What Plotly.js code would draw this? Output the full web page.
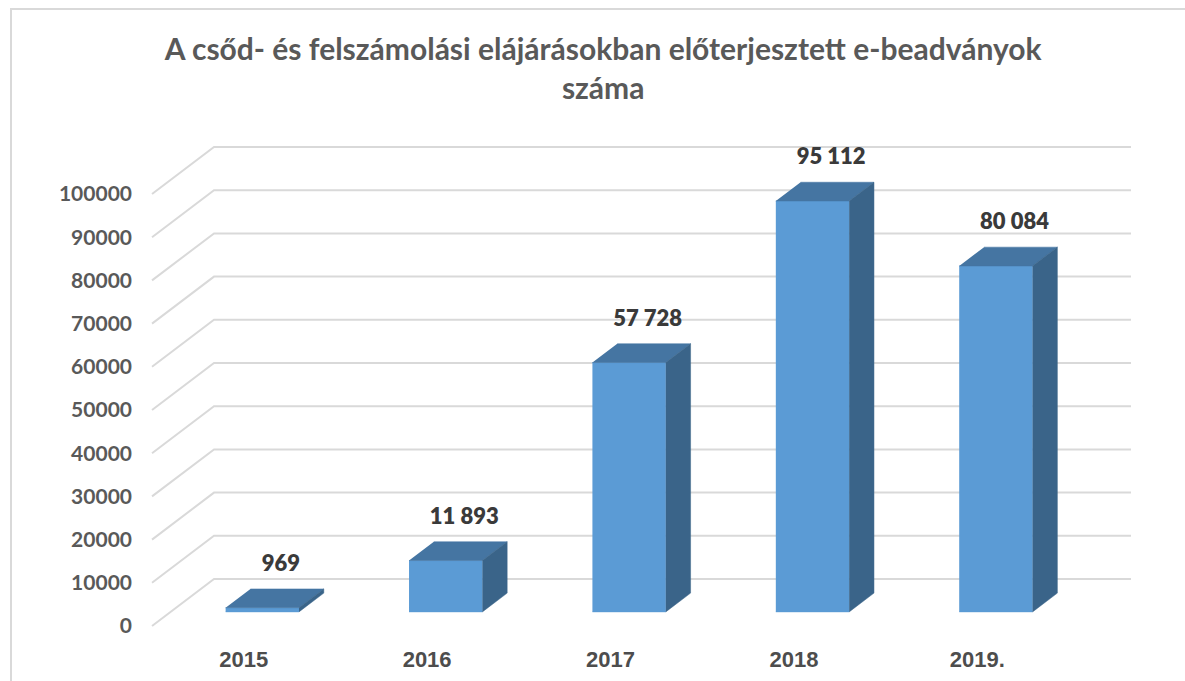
<!DOCTYPE html>
<html><head><meta charset="utf-8">
<script src="https://cdn.plot.ly/plotly-3.0.1.min.js"></script>
<style>html,body{margin:0;padding:0;background:#fff}#chart{width:1185px;height:681px}</style>
</head><body><div id="chart"></div>
<script>
// ---- data ----
const categories = ['2015', '2016', '2017', '2018', '2019.'];
const values = [969, 11893, 57728, 95112, 80084];
const yTickValues = [0, 10000, 20000, 30000, 40000, 50000, 60000, 70000, 80000, 90000, 100000];
const yTickLabels = ['0', '10000', '20000', '30000', '40000', '50000', '60000', '70000', '80000', '90000', '100000'];
const chartTitle = 'A csőd- és felszámolási elájárásokban előterjesztett e-beadványok<br>száma';

// ---- pseudo-3D geometry (style) ----
const DX = 0.338;      // depth shift along x (category units)
const DY = 10880;      // depth shift along y (value units)
const D1 = 0.3, D2 = 0.7, BW = 0.4;
const PADX = 0.011, PADY = 463;
const LABEL_OFF = 7600;
const W = 1185, H = 681, L = 150, R = 52, T = 145, B = 53;
const n = categories.length;

function fmt(v) { return String(v).replace(/\B(?=(\d{3})+(?!\d))/g, ' '); }

const FONT = 'Lato, "Open Sans", sans-serif';

// gridlines (back wall + left wall diagonals)
const gx = [], gy = [];
yTickValues.forEach(v => {
  gx.push(-0.5, -0.5 + DX, n - 0.5 + DX, null);
  gy.push(v, v + DY, v + DY, null);
});

const fx = [], fy = [], tx = [], ty = [], sxs = [], sys = [], lx = [], ly = [], lt = [];
const ddx = DX * (D2 - D1), b1 = DY * D1, b2 = DY * D2;
values.forEach((v, i) => {
  const x0 = i - BW / 2 + DX * D1, x1 = x0 + BW;
  fx.push(x0, x1, x1, x0, null); fy.push(b1, b1, v + b1, v + b1, null);
  tx.push(x0, x1, x1 + ddx, x0 + ddx, null); ty.push(v + b1, v + b1, v + b2, v + b2, null);
  sxs.push(x1, x1 + ddx, x1 + ddx, x1, null); sys.push(b1, b2, v + b2, v + b1, null);
  lx.push(i + DX * 0.6); ly.push(v + DY * 0.5 + LABEL_OFF); lt.push(fmt(v));
});

const traces = [
  {type: 'scatter', mode: 'lines', x: gx, y: gy, line: {color: '#d9d9d9', width: 2}, hoverinfo: 'skip', connectgaps: false},
  {type: 'scatter', mode: 'lines', x: fx, y: fy, fill: 'toself', fillcolor: '#5b9bd5', line: {color: '#5b9bd5', width: 0.5}, hoverinfo: 'skip'},
  {type: 'scatter', mode: 'lines', x: tx, y: ty, fill: 'toself', fillcolor: '#4575a2', line: {color: '#4575a2', width: 0.5}, hoverinfo: 'skip'},
  {type: 'scatter', mode: 'lines', x: sxs, y: sys, fill: 'toself', fillcolor: '#3a6489', line: {color: '#3a6489', width: 0.5}, hoverinfo: 'skip'},
  {type: 'scatter', mode: 'text', x: lx, y: ly, text: lt, textposition: 'middle center', cliponaxis: false,
   textfont: {family: FONT, size: 22, color: '#3a3a3a', weight: 800}, hoverinfo: 'skip'}
];

const pw = W - L - R, ph = H - T - B;
const layout = {
  width: W, height: H,
  margin: {l: L, r: R, t: T, b: B},
  paper_bgcolor: '#ffffff', plot_bgcolor: 'rgba(0,0,0,0)',
  showlegend: false,
  title: {text: chartTitle, x: 0.509, xref: 'container', xanchor: 'center', y: 1 - 60 / H, yref: 'container', yanchor: 'middle',
          font: {family: FONT, size: 30, color: '#595959', weight: 700}},
  xaxis: {range: [-0.5 - PADX, n - 0.5 + DX + PADX], showgrid: false, zeroline: false, showline: false, ticks: '',
          tickvals: categories.map((c, i) => i), ticktext: categories, ticklabelstandoff: 16,
          tickfont: {family: '"Liberation Sans", Arial, sans-serif', size: 22, color: '#4d4d4d', weight: 700}, fixedrange: true},
  yaxis: {range: [-PADY, yTickValues[yTickValues.length - 1] + DY + PADY], showgrid: false, zeroline: false, showline: false, ticks: '',
          tickvals: yTickValues, ticktext: yTickLabels, ticklabelstandoff: 17,
          tickfont: {family: FONT, size: 21, color: '#595959', weight: 700}, fixedrange: true},
  shapes: [{type: 'rect', xref: 'paper', yref: 'paper', layer: 'below',
            x0: (11 - L) / pw, x1: (W + 20 - L) / pw, y0: (H - B - (H + 20)) / ph, y1: (H - B - 9) / ph,
            line: {color: '#d9d9d9', width: 2}, fillcolor: 'rgba(0,0,0,0)'}]
};

Plotly.newPlot('chart', traces, layout, {displayModeBar: false, staticPlot: true});
</script>
</body></html>
